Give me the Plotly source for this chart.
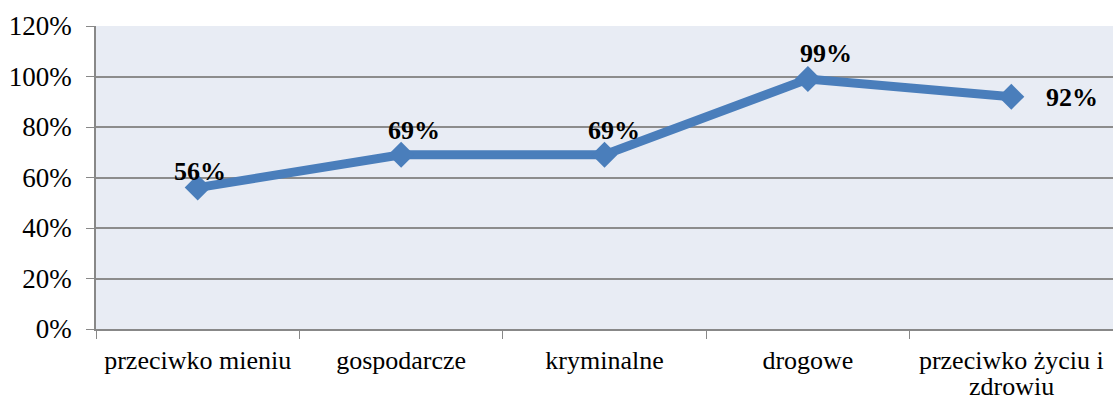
import plotly.graph_objects as go

categories = ["przeciwko mieniu", "gospodarcze", "kryminalne", "drogowe", "przeciwko życiu i zdrowiu"]
tick_first_lines = ["przeciwko mieniu", "gospodarcze", "kryminalne", "drogowe", "przeciwko życiu i"]
tick_second_lines = ["", "", "", "", "zdrowiu"]
values = [0.56, 0.69, 0.69, 0.99, 0.92]
labels = ["56%", "69%", "69%", "99%", "92%"]
label_shifts = [(2, -16), (13, -24), (9, -24), (18, -26), (61, 1)]

SERIF = "Liberation Serif, Times New Roman, serif"

fig = go.Figure()
fig.add_trace(go.Scatter(
    x=categories, y=values, mode="lines+markers",
    line=dict(color="#4A7EBB", width=9),
    marker=dict(symbol="diamond", size=20, color="#4A7EBB"),
    showlegend=False, hoverinfo="skip",
))
for c, v, t, (dx, dy) in zip(categories, values, labels, label_shifts):
    fig.add_annotation(x=c, y=v, text="<b>" + t + "</b>", showarrow=False,
                       xshift=dx, yshift=-dy,
                       font=dict(family=SERIF, size=26, color="#000000"))
for c, s in zip(categories, tick_second_lines):
    if s:
        fig.add_annotation(x=c, y=0, yref="paper", text=s, showarrow=False,
                           yanchor="middle", yshift=-57,
                           font=dict(family=SERIF, size=26, color="#000000"))

fig.update_layout(
    width=1113, height=401,
    margin=dict(l=96, r=0, t=26, b=72),
    paper_bgcolor="#FFFFFF", plot_bgcolor="#E8ECF4",
    font=dict(family=SERIF, size=26, color="#000000"),
)
fig.update_xaxes(
    type="category", range=[-0.5, 4.5], tickson="boundaries",
    tickmode="array", tickvals=categories, ticktext=tick_first_lines,
    ticks="outside", ticklen=8, tickcolor="#888888",
    showline=True, linecolor="#888888", linewidth=1.5,
    showgrid=False, automargin=False,
    tickfont=dict(family=SERIF, size=26, color="#000000"), ticklabelstandoff=7,
)
fig.update_yaxes(
    range=[0, 1.2], dtick=0.2, tickformat=".0%",
    ticks="outside", ticklen=8, tickcolor="#888888",
    showline=True, linecolor="#888888", linewidth=1.5,
    showgrid=True, gridcolor="#8C8C8C", gridwidth=1.5,
    zeroline=False, automargin=False,
    tickfont=dict(family=SERIF, size=27, color="#000000"), ticklabelstandoff=9,
)
fig.write_html("out.html", config={"displayModeBar": False},
               post_script="document.body.style.margin='0';document.body.style.overflow='hidden';")
